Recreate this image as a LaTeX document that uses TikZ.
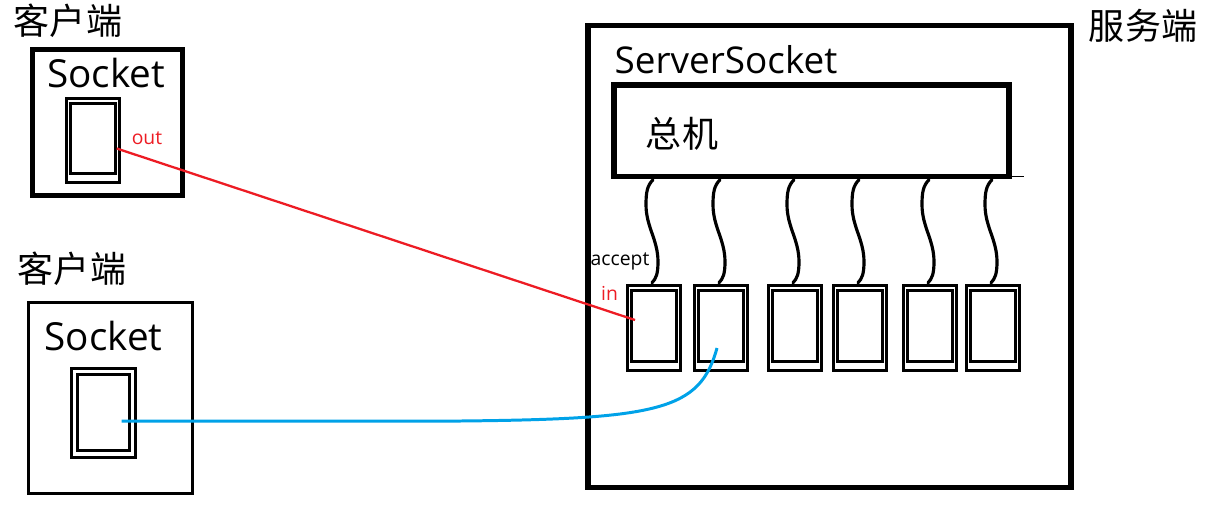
\documentclass[tikz,border=0pt]{standalone}
\usepackage{fontspec}
\setmainfont{Open Sans}
\newfontfamily\cjk{Noto Sans CJK SC}
\usepackage{tikz}
\usetikzlibrary{positioning, calc}

\definecolor{paintred}{RGB}{237,28,36}
\definecolor{paintblue}{RGB}{0,162,232}

\begin{document}
\begin{tikzpicture}[x=0.02cm, y=-0.02cm,
    box/.style={draw, inner sep=0pt, outer sep=0pt},
    sock/.style={box, line width=1.5pt, minimum width=1.07cm, minimum height=1.69cm},
    wire/.style={line width=1.8pt, line cap=round},
    big/.style={font=\fontsize{22}{26}\selectfont},
    han/.style={font=\cjk\fontsize{20.5}{24}\selectfont},
    small/.style={font=\fontsize{11}{13}\selectfont}]
    \useasboundingbox (0,0) rectangle (1224,515);

    % client 1
    \node[han] (client1) at (68,21) {客户端};
    \node[box, line width=2.8pt, minimum width=3cm, minimum height=2.92cm] (cbox1) at (107.5,122.5) {};
    \node[big] (csock1label) at (106,73) {Socket};
    \node[sock] (csock1) at (93,140.5) {};
    \draw[line width=1.5pt] ($(csock1.north west)+(4,5)$) rectangle ($(csock1.south east)+(-4,-9)$);
    \node[small, text=paintred] (out) at (147,138) {out};

    % client 2
    \node[han] (client2) at (72,269) {客户端};
    \node[box, line width=1.9pt, minimum width=3.27cm, minimum height=3.81cm] (cbox2) at (110.5,398) {};
    \node[big] (csock2label) at (103.5,336) {Socket};
    \node[sock, minimum width=1.29cm, minimum height=1.79cm] (csock2) at (103.5,413) {};
    \draw[line width=1.5pt] ($(csock2.north west)+(6,6)$) rectangle ($(csock2.south east)+(-6,-7)$);

    % server
    \node[han] (server) at (1143,26) {服务端};
    \node[box, line width=3pt, minimum width=9.66cm, minimum height=9.24cm] (sbox) at (829.5,256.5) {};
    \node[font=\fontsize{21}{25}\selectfont] (ssock) at (726,60) {ServerSocket};
    \node[box, line width=3pt, minimum width=7.9cm, minimum height=1.83cm] (host) at (811.5,130.75) {};
    \node[han] (hostlabel) at (682,134) {总机};
    \draw[line width=0.6pt] (host.south east) -- ++(15,0);

    % sockets made by accept
    \foreach \i/\x in {1/654,2/721,3/795,4/860,5/930,6/993} {
        \node[sock] (s\i) at (\x,328) {};
        \draw[line width=1.5pt] ($(s\i.north west)+(4,5)$) rectangle ($(s\i.south east)+(-4,-9)$);
        \draw[wire] ($(s\i.north)+(-1,-106)$) .. controls +(-6,6) and +(0,-12) .. ($(s\i.north)+(-8,-81)$)
                    .. controls +(0,22) and +(0,-22) .. ($(s\i.north)+(4,-24)$)
                    .. controls +(0,12) and +(4,-4) .. ($(s\i.north)+(-2,-3)$);
    }
    \node[small] (accept) at (620,261) {accept};
    \node[small, text=paintred] (in) at (609.5,293) {in};

    % connections
    \draw[paintred, line width=1.3pt] ($(csock1.east)+(-3,8)$) -- ($(s1.center)+(-19,-8)$);
    \draw[paintblue, line width=1.7pt] ($(csock2.center)+(18,8)$) -- (460,421)
        .. controls (660,419) and (700,410) .. ($(s2.center)+(-4,20)$);
\end{tikzpicture}
\end{document}
